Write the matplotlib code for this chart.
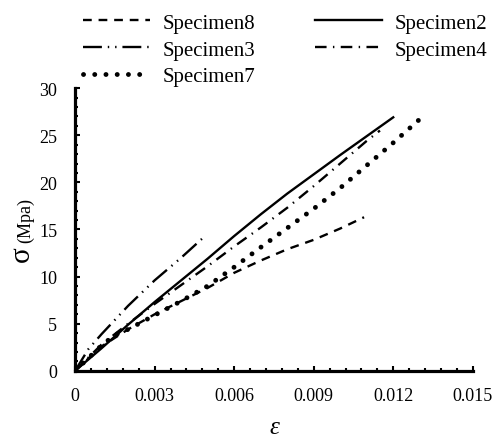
import numpy as np
import matplotlib.pyplot as plt
from matplotlib.ticker import MultipleLocator

plt.rcParams['font.family'] = ['Liberation Serif', 'DejaVu Serif']

# strain / stress readings for each specimen
eps2 = [0, 0.001, 0.002, 0.003, 0.004, 0.005, 0.006, 0.007, 0.008, 0.009, 0.010, 0.011, 0.012]
sig2 = [0, 2.4, 4.9, 7.3, 9.6, 11.9, 14.3, 16.6, 18.8, 20.85, 22.9, 24.9, 26.9]

eps3 = [0, 0.0005, 0.001, 0.002, 0.003, 0.004, 0.0049]
sig3 = [0, 2.3, 3.9, 6.9, 9.6, 12.0, 14.3]

eps4 = [0, 0.001, 0.002, 0.003, 0.004, 0.005, 0.006, 0.007, 0.008, 0.009, 0.010, 0.011, 0.0115]
sig4 = [0, 2.8, 5.0, 7.1, 9.1, 11.1, 13.2, 15.2, 17.3, 19.6, 22.0, 24.4, 25.5]

eps7 = [0, 0.001, 0.0015, 0.002, 0.003, 0.004, 0.005, 0.006, 0.007, 0.008, 0.009, 0.010, 0.011, 0.012, 0.0132]
sig7 = [0, 2.7, 3.8, 4.4, 5.9, 7.4, 9.0, 11.0, 13.1, 15.15, 17.2, 19.4, 21.8, 24.2, 27.2]

eps8 = [0, 0.001, 0.002, 0.003, 0.004, 0.005, 0.006, 0.007, 0.008, 0.009, 0.010, 0.0109]
sig8 = [0, 2.6, 4.4, 6.0, 7.4, 8.8, 10.4, 11.7, 12.9, 13.9, 15.1, 16.3]

fig = plt.figure(figsize=(4.94, 4.39), dpi=100)
ax = fig.add_axes([0.152, 0.153, 0.805, 0.644])

lw = 1.7
l8, = ax.plot(eps8, sig8, color='black', lw=lw, linestyle=(0, (3.7, 2.9)), label='Specimen8')
l2, = ax.plot(eps2, sig2, color='black', lw=lw, linestyle='-', label='Specimen2')
l3, = ax.plot(eps3, sig3, color='black', lw=lw,
              linestyle=(0, (8, 2.5, 0.6, 2.5, 0.6, 2.5)), label='Specimen3')
l4, = ax.plot(eps4, sig4, color='black', lw=lw,
              linestyle=(0, (4.9, 2.7, 0.6, 2.7)), label='Specimen4')
l7, = ax.plot(eps7, sig7, color='black', lw=3.5, linestyle=(0, (0.01, 2.3)),
              dash_capstyle='round', label='Specimen7')

ax.set_xlim(0, 0.015)
ax.set_ylim(0, 30)
ax.set_xticks([0, 0.003, 0.006, 0.009, 0.012, 0.015])
ax.set_xticklabels(['0', '0.003', '0.006', '0.009', '0.012', '0.015'])
ax.xaxis.set_minor_locator(MultipleLocator(0.0006))
ax.yaxis.set_major_locator(MultipleLocator(5))
ax.yaxis.set_minor_locator(MultipleLocator(1))

for s in ['top', 'right']:
    ax.spines[s].set_visible(False)
for s in ['left', 'bottom']:
    ax.spines[s].set_linewidth(2.3)

ax.tick_params(which='major', direction='in', length=3.5, width=1.5, labelsize=13)
ax.tick_params(axis='y', which='major', pad=13)
ax.tick_params(axis='x', which='major', pad=12)
ax.tick_params(which='minor', direction='in', length=2.5, width=1.5)

# axis titles
ax.text(0.5, -0.198, 'ε', transform=ax.transAxes, ha='center', va='center',
        fontsize=18, style='italic')
ax.text(-0.134, 0.415, 'σ', transform=ax.transAxes, rotation=90, ha='center', va='center',
        fontsize=21)
ax.text(-0.124, 0.537, '(Mpa)', transform=ax.transAxes, rotation=90, ha='center', va='center',
        fontsize=13)

fig.legend([l8, l3, l7, l2, l4], ['Specimen8', 'Specimen3', 'Specimen7', 'Specimen2', 'Specimen4'],
           ncol=2, loc='upper left', bbox_to_anchor=(0.168, 0.968), frameon=False,
           fontsize=15, handlelength=3.2, handletextpad=0.6, columnspacing=2.9,
           labelspacing=0.35, borderpad=0, borderaxespad=0)

fig.savefig('out.png', dpi=100)
